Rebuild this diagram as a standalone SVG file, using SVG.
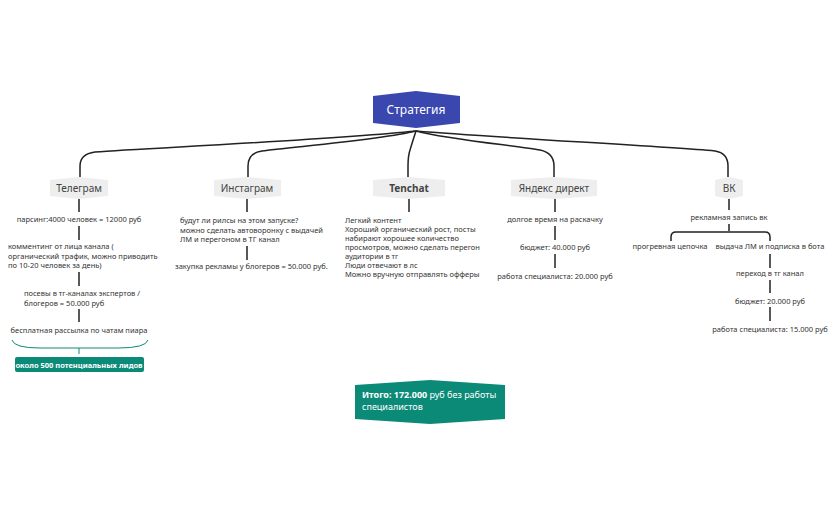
<svg xmlns="http://www.w3.org/2000/svg" width="833" height="516" viewBox="0 0 833 516">
<style>
text{font-family:"Noto Sans","Open Sans",sans-serif;font-size:7.5px;fill:#333}
.n{fill:#eeeeee}
.nl{font-size:10px;fill:#444;text-anchor:middle}
.c{text-anchor:middle}
.l{stroke:#222;stroke-width:1.5;fill:none}
.w{fill:#fff;font-weight:bold}
</style>
<rect width="833" height="516" fill="#fff"/>
<g id="connectors">
<path class="l" d="M416 131 C330 140 150 148 95 152 Q80 154 80 166 V177"/>
<path class="l" d="M416 131 C380 140 290 147 262 151 Q248 153 248 166 V177"/>
<path class="l" d="M416 131 Q413 140 410 150 Q408 156 408 166 V177"/>
<path class="l" d="M416 131 C450 140 520 146 540 150 Q554 153 554 166 V177"/>
<path class="l" d="M416 131 C500 138 660 146 715 151 Q728 153 728 166 V177"/>
<path class="l" d="M79 199V212M79 226V240M79 272V286M79 309V322"/>
<path d="M12 340 Q14 348 40 348 H118 Q146 348 148 340" stroke="#0c8a78" stroke-width="1" fill="none"/>
<path d="M79 348V354" stroke="#0c8a78" stroke-width="1"/>
<path class="l" d="M247 199V212M247 246V260"/>
<path class="l" d="M409 199V212"/>
<path class="l" d="M555 199V212M555 226V240M555 254V268"/>
<path class="l" d="M729 199V210M729 224V231M671 241V237Q671 232 676 232H765Q770 232 770 237V241M770 254V268M770 280V293M770 307V321"/>
</g>
<g id="strategy">
<polygon points="373,96 416,91 460,96 460,123 416,128 373,123" fill="#3a47ae"/>
<text x="416" y="114" style="font-size:12px;fill:#fff;text-anchor:middle">Стратегия</text>
</g>
<g id="telegram">
<polygon class="n" points="50,180 79,177 108,180 108,196 79,199 50,196"/>
<text class="nl" x="79" y="192">Телеграм</text>
<text class="c" x="79" y="222">парсинг:4000 человек = 12000 руб</text>
<text x="8" y="249">комментинг от лица канала (</text>
<text x="8" y="258.5">органический трафик, можно приводить</text>
<text x="8" y="268">по 10-20 человек за день)</text>
<text x="24" y="296">посевы в тг-каналах экспертов /</text>
<text x="24" y="305.5">блогеров = 50.000 руб</text>
<text class="c" x="79" y="333">бесплатная рассылка по чатам пиара</text>
</g>
<g id="leads">
<rect x="15" y="357" width="129" height="15" rx="2" fill="#0c8a78"/>
<text class="w c" x="79" y="367.5">около 500 потенциальных лидов</text>
</g>
<g id="instagram">
<polygon class="n" points="214,180 247,177 281,180 281,196 247,199 214,196"/>
<text class="nl" x="247" y="192">Инстаграм</text>
<text x="180" y="223">будут ли рилсы на этом запуске?</text>
<text x="180" y="232.5">можно сделать автоворонку с выдачей</text>
<text x="180" y="242">ЛМ и перегоном в ТГ канал</text>
<text x="175" y="269">закупка рекламы у блогеров = 50.000 руб.</text>
</g>
<g id="tenchat">
<polygon class="n" points="373,180 409,177 445,180 445,196 409,199 373,196"/>
<text class="nl" x="409" y="192" style="font-weight:bold">Tenchat</text>
<text x="345" y="223">Легкий контент</text>
<text x="345" y="232">Хороший органический рост, посты</text>
<text x="345" y="241">набирают хорошее количество</text>
<text x="345" y="250">просмотров, можно сделать перегон</text>
<text x="345" y="259">аудитории в тг</text>
<text x="345" y="268">Люди отвечают в лс</text>
<text x="345" y="277">Можно вручную отправлять офферы</text>
</g>
<g id="yandex">
<polygon class="n" points="511,180 554,177 597,180 597,196 554,199 511,196"/>
<text class="nl" x="554" y="192">Яндекс директ</text>
<text class="c" x="555" y="222">долгое время на раскачку</text>
<text class="c" x="555" y="250">бюджет: 40.000 руб</text>
<text class="c" x="555" y="279">работа специалиста: 20.000 руб</text>
</g>
<g id="vk">
<polygon class="n" points="715,180 729,177 743,180 743,196 729,199 715,196"/>
<text class="nl" x="729" y="192">ВК</text>
<text class="c" x="729" y="220">рекламная запись вк</text>
<text class="c" x="670" y="249">прогревная цепочка</text>
<text class="c" x="770" y="249">выдача ЛМ и подписка в бота</text>
<text class="c" x="770" y="276">переход в тг канал</text>
<text class="c" x="770" y="304">бюджет: 20.000 руб</text>
<text class="c" x="770" y="332">работа специалиста: 15.000 руб</text>
</g>
<g id="total">
<polygon points="355,385 430,380 505,385 505,419 430,424 355,419" fill="#0c8a78"/>
<text class="w" x="362" y="398" style="font-size:9px">Итого: 172.000 <tspan style="font-weight:normal">руб без работы</tspan></text>
<text class="w" x="362" y="410" style="font-size:9px;font-weight:normal">специалистов</text>
</g>
</svg>
